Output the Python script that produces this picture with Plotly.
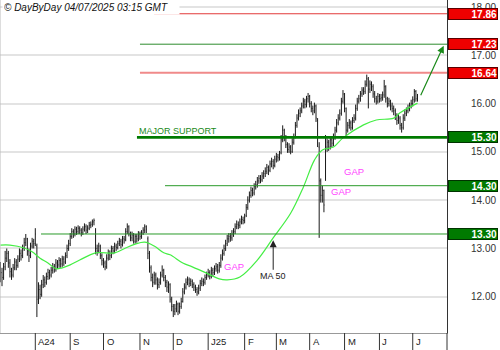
import pandas as pd
import plotly.graph_objects as go

# ---------------- data ----------------
opens = [12.60,12.50,12.40,12.62,12.80,12.90,12.70,12.52,12.45,12.60,
         12.72,12.65,12.78,12.90,12.85,13.00,13.12,13.20,12.95,12.85,
         13.05,13.15,13.10,13.05,11.95,12.15,12.05,12.25,12.35,12.30,
         12.42,12.50,12.45,12.55,12.62,12.58,12.70,12.66,12.75,12.68,
         12.78,12.72,12.85,13.00,13.10,13.25,13.35,13.30,13.40,13.35,
         13.42,13.38,13.32,13.40,13.45,13.38,13.42,13.48,13.50,13.55,
         13.40,13.00,12.95,13.05,12.85,12.75,12.70,12.62,12.80,12.90,
         12.85,13.00,12.95,13.05,13.02,13.10,13.15,13.08,13.20,13.18,
         13.35,13.45,13.30,13.22,13.28,13.15,13.25,13.20,13.30,13.25,
         13.32,13.38,13.45,13.20,12.90,12.60,12.40,12.30,12.45,12.35,
         12.25,12.30,12.45,12.55,12.40,12.30,12.20,12.25,11.95,11.80,
         11.70,11.75,11.85,11.70,11.80,11.90,12.10,12.20,12.30,12.35,
         12.28,12.32,12.25,12.20,12.15,12.10,12.18,12.28,12.32,12.30,
         12.40,12.45,12.50,12.42,12.55,12.50,12.58,12.62,12.55,12.65,
         12.80,12.90,13.00,13.10,13.20,13.25,13.22,13.30,13.35,13.45,
         13.50,13.48,13.55,13.60,13.58,13.68,13.85,14.00,14.10,14.20,
         14.15,14.28,14.32,14.40,14.45,14.42,14.50,14.55,14.60,14.68,
         14.62,14.75,14.80,14.72,14.85,14.90,14.88,14.98,15.25,15.45,
         15.30,15.15,15.05,15.10,15.00,15.20,15.30,15.55,15.70,15.80,
         15.85,15.95,16.05,15.98,16.10,16.15,16.00,15.90,15.85,15.95,
         15.65,15.10,14.40,14.10,14.20,14.50,15.10,15.20,15.10,15.25,
         15.18,15.30,15.45,15.60,15.70,15.80,16.05,16.20,15.90,15.45,
         15.55,15.60,15.50,15.65,15.70,15.90,16.05,16.10,16.20,16.28,
         16.25,16.40,16.50,16.30,16.40,16.35,16.20,16.10,16.05,16.15,
         16.10,16.12,16.18,16.35,16.10,16.00,16.05,15.95,15.90,15.85,
         15.75,15.65,15.70,15.55,15.50,15.70,15.80,15.85,15.90,15.95,
         16.00,16.08,16.25,16.10]

highs = [12.72,12.60,12.70,12.95,13.00,12.95,12.78,12.60,12.68,12.80,
         12.78,12.86,13.00,12.98,13.08,13.22,13.30,13.22,13.00,13.12,
         13.22,13.20,13.42,13.10,12.30,12.25,12.35,12.45,12.42,12.50,
         12.58,12.56,12.62,12.70,12.68,12.78,12.76,12.82,12.80,12.85,
         12.84,12.92,13.08,13.18,13.32,13.42,13.40,13.46,13.45,13.48,
         13.46,13.42,13.46,13.52,13.50,13.48,13.55,13.56,13.60,13.62,
         13.42,13.08,13.12,13.08,12.90,12.80,12.75,12.88,12.98,12.96,
         13.06,13.05,13.12,13.10,13.16,13.22,13.20,13.26,13.26,13.42,
         13.52,13.48,13.35,13.35,13.32,13.30,13.30,13.36,13.35,13.38,
         13.44,13.50,13.48,13.25,12.95,12.65,12.48,12.52,12.50,12.40,
         12.38,12.52,12.65,12.58,12.45,12.35,12.32,12.28,12.00,11.85,
         11.85,11.92,11.88,11.88,11.98,12.18,12.28,12.38,12.42,12.40,
         12.38,12.36,12.30,12.25,12.20,12.25,12.35,12.40,12.38,12.46,
         12.52,12.58,12.55,12.62,12.60,12.65,12.70,12.68,12.72,12.88,
         12.98,13.08,13.18,13.28,13.32,13.32,13.38,13.42,13.52,13.58,
         13.56,13.62,13.68,13.66,13.72,13.92,14.08,14.18,14.28,14.26,
         14.35,14.40,14.48,14.52,14.52,14.58,14.62,14.68,14.75,14.72,
         14.82,14.88,14.85,14.92,14.98,14.96,15.02,15.35,15.55,15.48,
         15.35,15.20,15.18,15.14,15.28,15.38,15.62,15.78,15.88,15.92,
         16.02,16.12,16.10,16.16,16.22,16.18,16.05,15.96,16.02,15.98,
         15.70,15.20,14.45,14.30,14.22,15.35,15.28,15.25,15.32,15.30,
         15.38,15.52,15.68,15.78,15.88,16.12,16.28,16.22,15.92,15.62,
         15.68,15.65,15.72,15.78,15.98,16.12,16.18,16.26,16.34,16.34,
         16.48,16.60,16.55,16.48,16.46,16.40,16.26,16.16,16.22,16.20,
         16.20,16.25,16.49,16.38,16.14,16.12,16.08,16.02,15.96,15.90,
         15.80,15.78,15.74,15.60,15.78,15.88,15.92,15.98,16.02,16.08,
         16.15,16.30,16.28,16.20]

lows = [12.30,12.22,12.35,12.55,12.72,12.60,12.40,12.35,12.40,12.55,
        12.55,12.60,12.72,12.75,12.80,12.95,13.05,12.85,12.72,12.80,
        13.00,13.00,13.05,11.58,11.85,11.95,12.00,12.18,12.20,12.25,
        12.35,12.36,12.40,12.48,12.50,12.52,12.58,12.60,12.60,12.62,
        12.64,12.68,12.80,12.95,13.05,13.20,13.22,13.25,13.28,13.30,
        13.30,13.25,13.28,13.35,13.30,13.32,13.38,13.42,13.45,13.48,
        12.88,12.85,12.90,12.78,12.65,12.60,12.55,12.58,12.75,12.76,
        12.80,12.88,12.90,12.95,12.98,13.05,13.00,13.04,13.10,13.15,
        13.30,13.25,13.15,13.15,13.10,13.10,13.12,13.15,13.18,13.20,
        13.28,13.32,13.32,12.78,12.50,12.32,12.20,12.25,12.25,12.15,
        12.18,12.25,12.40,12.32,12.20,12.10,12.08,11.88,11.70,11.58,
        11.62,11.68,11.62,11.65,11.75,11.88,12.05,12.15,12.24,12.20,
        12.22,12.18,12.12,12.08,12.02,12.05,12.12,12.22,12.22,12.25,
        12.35,12.40,12.36,12.38,12.42,12.45,12.52,12.48,12.50,12.60,
        12.75,12.85,12.95,13.05,13.12,13.14,13.16,13.24,13.30,13.40,
        13.40,13.42,13.50,13.50,13.52,13.65,13.80,13.95,14.05,14.08,
        14.10,14.22,14.26,14.34,14.35,14.38,14.44,14.48,14.54,14.52,
        14.58,14.68,14.64,14.68,14.78,14.80,14.82,14.95,15.20,15.22,
        15.08,14.98,14.98,14.95,14.98,15.15,15.28,15.50,15.65,15.72,
        15.80,15.90,15.90,15.92,16.02,15.92,15.82,15.76,15.80,15.62,
        15.10,13.22,13.95,13.95,13.75,14.40,15.00,15.02,15.05,15.10,
        15.12,15.25,15.40,15.55,15.65,15.75,16.00,15.82,15.30,15.40,
        15.48,15.44,15.46,15.60,15.65,15.85,16.00,16.04,16.14,16.18,
        16.20,16.35,15.90,16.22,16.26,16.12,16.02,15.98,16.00,16.02,
        16.04,16.06,16.12,16.02,15.92,15.94,15.86,15.82,15.76,15.66,
        15.56,15.58,15.46,15.40,15.46,15.64,15.74,15.80,15.84,15.90,
        15.94,16.02,16.04,16.04]

closes = [12.50,12.40,12.62,12.80,12.90,12.70,12.52,12.45,12.60,12.72,
          12.65,12.78,12.90,12.85,13.00,13.12,13.20,12.95,12.85,13.05,
          13.15,13.10,13.30,11.95,12.15,12.05,12.25,12.35,12.30,12.42,
          12.50,12.45,12.55,12.62,12.58,12.70,12.66,12.75,12.68,12.78,
          12.72,12.85,13.00,13.10,13.25,13.35,13.30,13.40,13.35,13.42,
          13.38,13.32,13.40,13.45,13.38,13.42,13.48,13.50,13.55,13.58,
          13.00,12.95,13.05,12.85,12.75,12.70,12.62,12.80,12.90,12.85,
          13.00,12.95,13.05,13.02,13.10,13.15,13.08,13.20,13.18,13.35,
          13.45,13.30,13.22,13.28,13.15,13.25,13.20,13.30,13.25,13.32,
          13.38,13.45,13.40,12.90,12.60,12.40,12.30,12.45,12.35,12.25,
          12.30,12.45,12.55,12.40,12.30,12.20,12.25,11.95,11.80,11.70,
          11.75,11.85,11.70,11.80,11.90,12.10,12.20,12.30,12.35,12.28,
          12.32,12.25,12.20,12.15,12.10,12.18,12.28,12.32,12.30,12.40,
          12.45,12.50,12.42,12.55,12.50,12.58,12.62,12.55,12.65,12.80,
          12.90,13.00,13.10,13.20,13.25,13.22,13.30,13.35,13.45,13.50,
          13.48,13.55,13.60,13.58,13.65,13.85,14.00,14.10,14.20,14.15,
          14.28,14.32,14.40,14.45,14.42,14.50,14.55,14.60,14.68,14.62,
          14.75,14.80,14.72,14.85,14.90,14.88,14.95,15.25,15.45,15.30,
          15.15,15.05,15.10,15.00,15.20,15.30,15.55,15.70,15.80,15.85,
          15.95,16.05,15.98,16.10,16.15,16.00,15.90,15.85,15.95,15.70,
          15.30,14.40,14.10,14.20,13.90,15.10,15.20,15.10,15.25,15.18,
          15.30,15.45,15.60,15.70,15.80,16.05,16.20,15.90,15.45,15.55,
          15.60,15.50,15.65,15.70,15.90,16.05,16.10,16.20,16.28,16.25,
          16.40,16.52,16.30,16.40,16.35,16.20,16.10,16.05,16.15,16.10,
          16.12,16.18,16.35,16.10,16.00,16.05,15.95,15.90,15.85,15.75,
          15.65,15.70,15.55,15.50,15.70,15.80,15.85,15.90,15.95,16.00,
          16.08,16.25,16.10,16.12]

# 50-day moving average (bar index, value)
ma_idx = [0, 6, 15, 20, 25, 30, 35, 39, 44, 50, 60, 72, 79, 85, 91, 97, 103, 107,
          115, 121, 130, 138, 143, 151, 162, 172, 183, 191, 198, 203, 210, 216,
          229, 237, 248, 252, 263]
ma_val = [13.07, 13.07, 13.01, 12.93, 12.80, 12.70, 12.58, 12.60, 12.66, 12.76,
          12.91, 12.91, 13.01, 13.09, 13.13, 13.05, 12.91, 12.87, 12.70, 12.62,
          12.49, 12.37, 12.35, 12.41, 12.76, 13.22, 13.73, 14.27, 14.83, 15.04,
          15.10, 15.29, 15.56, 15.66, 15.70, 15.81, 16.01]

month_labels = ["A24", "S", "O", "N", "D", "J25", "F", "M", "A", "M", "J", "J"]
y_ticks = [12, 13, 14, 15, 16, 17, 18]

resist_levels = [17.86, 17.23, 16.64]
support_levels = [15.30, 14.30, 13.30]

# ---------------- figure ----------------
n = min(len(opens), len(highs), len(lows), len(closes))
dates = pd.bdate_range("2024-07-02", periods=n)
idx = list(range(n))

fig = go.Figure()
fig.add_trace(go.Ohlc(
    x=idx, open=opens[:n], high=highs[:n], low=lows[:n], close=closes[:n],
    increasing=dict(line=dict(color="#1a1a1a", width=1)),
    decreasing=dict(line=dict(color="#1a1a1a", width=1)),
    tickwidth=0.3, hoverinfo="skip", showlegend=False))

fig.add_trace(go.Scatter(
    x=ma_idx, y=ma_val, mode="lines", line=dict(color="#44ee44", width=1.2, shape="spline"),
    hoverinfo="skip", showlegend=False))

shapes = []
annotations = []

# level lines
line_styles = {
    17.86: dict(start=96.9, color="#e23a3a", width=1),
    17.23: dict(start=88.0, color="#2e8b2e", width=1),
    16.64: dict(start=88.0, color="#f08a8a", width=2),
    15.30: dict(start=86.1, color="#007a00", width=2.6),
    14.30: dict(start=103.8, color="#2a9a2a", width=1),
    13.30: dict(start=25.6, color="#2a9a2a", width=1),
}
for lv in resist_levels + support_levels:
    st = line_styles[lv]
    shapes.append(dict(type="line", xref="x", yref="y", x0=st["start"], x1=281.6,
                       y0=lv, y1=lv, line=dict(color=st["color"], width=st["width"])))

# price boxes on right
for lv in resist_levels:
    annotations.append(dict(xref="paper", yref="y", x=1, y=lv, xanchor="left", yanchor="middle",
                            xshift=1, text=f"<b>{lv:.2f}</b>", showarrow=False, align="right",
                            width=48, height=10, bgcolor="#ee0000", bordercolor="#5a0000",
                            borderwidth=1, borderpad=0,
                            font=dict(family="Liberation Sans, Arial", size=10, color="white")))
for lv in support_levels:
    annotations.append(dict(xref="paper", yref="y", x=1, y=lv, xanchor="left", yanchor="middle",
                            xshift=1, text=f"<b>{lv:.2f}</b>", showarrow=False, align="right",
                            width=48, height=10, bgcolor="#007a00", bordercolor="#003300",
                            borderwidth=1, borderpad=0,
                            font=dict(family="Liberation Sans, Arial", size=10, color="white")))

# month ticks along bottom
month_starts = [i for i in range(1, n) if dates[i].month != dates[i - 1].month]
for k, i in enumerate(month_starts[:len(month_labels)]):
    shapes.append(dict(type="line", xref="x", yref="paper", x0=i, x1=i, y0=0, y1=-17 / 333,
                       line=dict(color="#333333", width=1)))
    annotations.append(dict(xref="x", yref="paper", x=i, y=-8.5 / 333, xanchor="left",
                            yanchor="middle", xshift=1, text=month_labels[k], showarrow=False,
                            font=dict(family="Liberation Sans, Arial", size=9.5, color="#222222")))
shapes.append(dict(type="line", xref="paper", yref="paper", x0=1, x1=1, y0=0, y1=-17 / 333,
                   line=dict(color="#333333", width=1)))
shapes.append(dict(type="line", xref="paper", yref="paper", x0=0, x1=0, y0=0, y1=1,
                   line=dict(color="#bbbbbb", width=1)))

# text labels
annotations.append(dict(xref="paper", yref="paper", x=0, y=1, xanchor="left", yanchor="top",
                        xshift=2, text="© DayByDay 04/07/2025 03:15 GMT", showarrow=False,
                        align="left", width=174, bgcolor="white", borderpad=1,
                        font=dict(family="Liberation Sans, Arial", size=10, color="#111111",
                                  style="italic")))
annotations.append(dict(xref="x", yref="y", x=86.1, y=15.43, xanchor="left", yanchor="middle",
                        text="MAJOR SUPPORT", showarrow=False,
                        font=dict(family="Liberation Sans, Arial", size=9, color="#1a8a1a")))
for gx, gy in [(140.0, 12.62), (207.0, 14.17), (215.5, 14.60)]:
    annotations.append(dict(xref="x", yref="y", x=gx, y=gy, xanchor="left", yanchor="middle",
                            text="GAP", showarrow=False,
                            font=dict(family="Liberation Sans, Arial", size=9.5, color="#ff44ff")))
annotations.append(dict(xref="x", yref="y", x=172.0, y=13.17, text="MA 50", showarrow=True,
                        ax=0, ay=36, arrowhead=2, arrowsize=1.4, arrowwidth=1,
                        arrowcolor="#222222", standoff=0,
                        font=dict(family="Liberation Sans, Arial", size=9, color="#222222")))
annotations.append(dict(xref="x", yref="y", axref="x", ayref="y", x=279.5, y=17.20,
                        ax=264.6, ay=16.14, text="", showarrow=True, arrowhead=2,
                        arrowsize=1.2, arrowwidth=1.2, arrowcolor="#1a8a1a"))

fig.update_layout(
    width=500, height=350, margin=dict(l=0, r=53, t=0, b=17),
    paper_bgcolor="white", plot_bgcolor="white",
    shapes=shapes, annotations=annotations, showlegend=False,
    xaxis=dict(range=[-0.26, 281.6], showgrid=False, zeroline=False, showticklabels=False,
               showline=True, linecolor="#999999", linewidth=1,
               rangeslider=dict(visible=False), fixedrange=True),
    yaxis=dict(side="right", range=[11.25, 18.145], tickvals=y_ticks,
               ticktext=[f"{v:.2f}" for v in y_ticks], showgrid=True, gridcolor="#e3e3e3",
               gridwidth=1.5, zeroline=False, showline=True, linecolor="#333333", linewidth=1,
               ticks="", ticklabelstandoff=21, fixedrange=True,
               tickfont=dict(family="Liberation Sans, Arial", size=10, color="#333333")),
)

fig.write_html("out.html")
